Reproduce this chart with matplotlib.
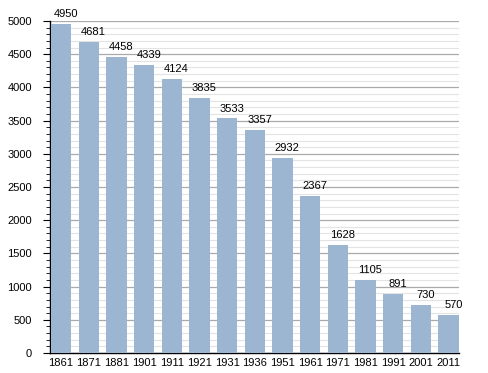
import numpy as np
import matplotlib.pyplot as plt
from matplotlib.ticker import MultipleLocator

plt.rcParams['font.family'] = ['Liberation Sans', 'DejaVu Sans']

years = ['1861', '1871', '1881', '1901', '1911', '1921', '1931', '1936',
         '1951', '1961', '1971', '1981', '1991', '2001', '2011']
population = [4950, 4681, 4458, 4339, 4124, 3835, 3533, 3357,
              2932, 2367, 1628, 1105, 891, 730, 570]

fig = plt.figure(figsize=(4.88, 3.73), dpi=100)
ax = fig.add_axes([50 / 488, 20 / 373, 409 / 488, 332 / 373])

x = np.arange(len(years))
ax.bar(x, population, width=0.74, color='#9cb5d0', zorder=3)

# value labels sit a little right of the bar centre, as in the original
for xi, v in zip(x, population):
    ax.annotate(str(v), (xi, v), xytext=(3.5, 3.5), textcoords='offset points',
                ha='center', va='bottom', fontsize=8, zorder=4)

ax.set_xlim(-0.4, 14.38)
ax.set_ylim(0, 5000)
ax.set_xticks(x)
ax.set_xticklabels(years)
ax.yaxis.set_major_locator(MultipleLocator(500))
ax.yaxis.set_minor_locator(MultipleLocator(100))

ax.grid(axis='y', which='major', color='#aaaaaa', linewidth=0.9, zorder=0)
ax.grid(axis='y', which='minor', color='#e3e3e3', linewidth=0.8, zorder=0)

for s in ['top', 'right']:
    ax.spines[s].set_visible(False)
ax.spines['left'].set_linewidth(1.0)
ax.spines['bottom'].set_linewidth(1.0)

ax.tick_params(axis='y', which='major', length=5, labelsize=8, pad=8)
ax.tick_params(axis='y', which='minor', length=3)
ax.tick_params(axis='x', length=0, labelsize=8, pad=3.5)

fig.savefig('out.png', dpi=100)
